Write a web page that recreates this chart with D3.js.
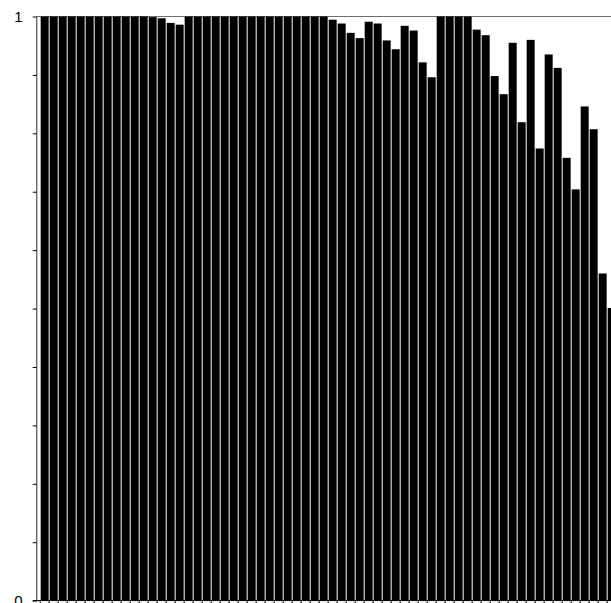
<!DOCTYPE html>
<html>
<head>
<meta charset="utf-8">
<script src="https://cdn.jsdelivr.net/npm/d3@7"></script>
<style>
  html, body { margin: 0; padding: 0; background: #fff; }
  svg { display: block; }
</style>
</head>
<body>
<svg id="chart" width="611" height="603"></svg>
<script>
// Data (64 visible bars; the chart is clipped at the right edge)
const categories = d3.range(1, 65).map(String);
const values = [
  1, 1, 1, 1, 1, 1, 1, 1, 1, 1, 1, 1,
  0.999, 0.997, 0.989, 0.986,
  1, 1, 1, 1, 1, 1, 1, 1, 1, 1, 1, 1, 1, 1, 1, 1,
  0.9945, 0.988, 0.972, 0.963, 0.991, 0.988, 0.959, 0.944, 0.984, 0.976,
  0.9215, 0.896, 1, 1, 1, 1, 0.9775, 0.968, 0.898, 0.867, 0.955, 0.819,
  0.960, 0.774, 0.935, 0.912, 0.758, 0.704, 0.846, 0.807, 0.560, 0.501
];
const yTickValues = d3.range(0, 11).map(d => d / 10);
const yTickLabels = { 0: "0", 1: "1" };

(function () {
  const svg = d3.select("#chart");
  const mLeft = 36.7, mTop = 16.5, mBottom = 600.6, step = 9;
  const x = d3.scaleBand()
    .domain(categories)
    .range([mLeft + 3.47, mLeft + 3.47 + categories.length * step])
    .paddingInner(1 / 9)
    .paddingOuter(0.5 / 9);
  const y = d3.scaleLinear().domain([0, 1]).range([mBottom, mTop]);

  const axisColor = "#6e6e6e";

  // plot frame top line
  svg.append("line")
    .attr("x1", mLeft).attr("x2", 611)
    .attr("y1", y(1)).attr("y2", y(1))
    .attr("stroke", axisColor).attr("stroke-width", 1);

  // bars
  svg.append("g").selectAll("rect")
    .data(values)
    .join("rect")
    .attr("x", (d, i) => x(categories[i]))
    .attr("y", d => y(d))
    .attr("width", x.bandwidth())
    .attr("height", d => y(0) - y(d))
    .attr("fill", "#000");

  // y axis
  const yAxis = d3.axisLeft(y)
    .tickValues(yTickValues)
    .tickSize(4)
    .tickPadding(10)
    .tickFormat(d => yTickLabels[d] !== undefined ? yTickLabels[d] : "");
  const gy = svg.append("g")
    .attr("transform", `translate(${mLeft},0)`)
    .call(yAxis);
  gy.select(".domain").attr("stroke", axisColor).attr("stroke-width", 1.5).attr("d", `M0,${mTop}V${mBottom}`);
  gy.selectAll(".tick line").attr("stroke", "#000");
  gy.selectAll(".tick text")
    .style("font-family", "'Liberation Sans', Arial, sans-serif")
    .style("font-size", "15px")
    .attr("fill", "#000");

  // x axis with tick marks between categories
  const gx = svg.append("g");
  gx.append("line")
    .attr("x1", mLeft - 4).attr("x2", 611)
    .attr("y1", mBottom).attr("y2", mBottom)
    .attr("stroke", "#000").attr("stroke-width", 1);
  gx.selectAll("line.xt")
    .data(categories)
    .join("line")
    .attr("class", "xt")
    .attr("x1", d => x(d) - 0.5).attr("x2", d => x(d) - 0.5)
    .attr("y1", mBottom).attr("y2", mBottom + 4)
    .attr("stroke", "#000").attr("stroke-width", 1);
})();
</script>
</body>
</html>
